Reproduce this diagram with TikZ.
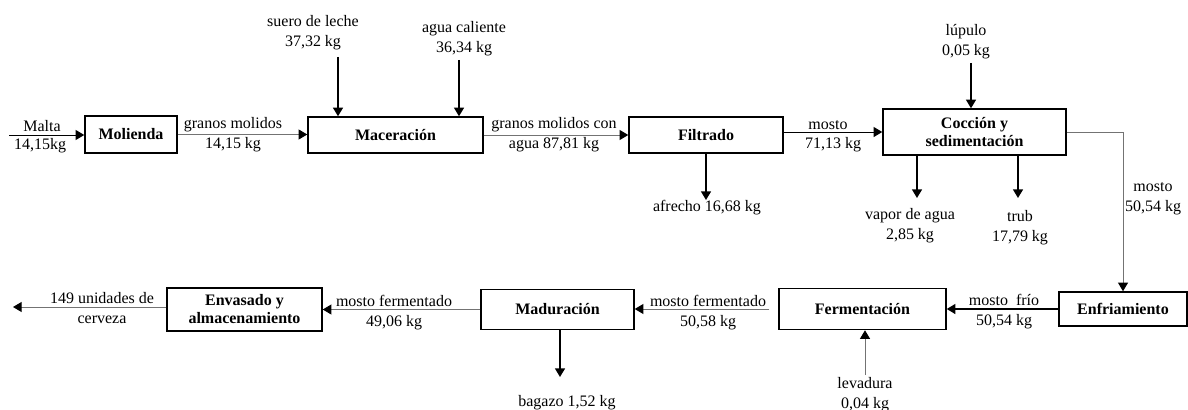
\documentclass[tikz,border=0pt]{standalone}
\usepackage{fontspec}
\setmainfont{Liberation Serif}
\usetikzlibrary{arrows.meta}
\begin{document}
\begin{tikzpicture}[x=0.75pt,y=-0.75pt,
  box/.style={draw=black, line width=1.1pt, fill=white, inner sep=1pt,
    font=\fontsize{12}{13.5}\selectfont\bfseries, align=center},
  lbl/.style={inner sep=0pt, font=\fontsize{12}{15}\selectfont, align=center},
  thickarrow/.style={line width=1.1pt, -{Triangle[length=6.5pt,width=7.5pt]}},
  thinarrow/.style={line width=0.75pt, -{Triangle[length=6.5pt,width=7.5pt]}},
  grayarrow/.style={line width=0.75pt, draw=black!55, -{Triangle[length=6.5pt,width=7.5pt,color=black]}}
]
\useasboundingbox (0,0) rectangle (1188,410);

% process boxes
\node[box, minimum width=92*0.75pt, minimum height=37*0.75pt] (mol) at (131,134.5) {Molienda};
\node[box, minimum width=175*0.75pt, minimum height=36*0.75pt] (mac) at (395.5,135) {Maceración};
\node[box, minimum width=154*0.75pt, minimum height=36*0.75pt] (fil) at (706,135) {Filtrado};
\node[box, minimum width=183*0.75pt, minimum height=46*0.75pt] (coc) at (974.5,132) {Cocción y\\sedimentación};
\node[box, minimum width=128*0.75pt, minimum height=34*0.75pt] (enf) at (1123,309) {Enfriamiento};
\node[box, minimum width=167*0.75pt, minimum height=41*0.75pt] (fer) at (862.5,309) {Fermentación};
\node[box, minimum width=153*0.75pt, minimum height=40*0.75pt] (mad) at (557.5,309.5) {Maduración};
\node[box, minimum width=155*0.75pt, minimum height=43*0.75pt] (env) at (244.5,309.5) {Envasado y\\almacenamiento};

% free ends
\coordinate (malta) at (9,135);
\coordinate (suero) at (338,57);
\coordinate (agua) at (459,60);
\coordinate (lup) at (971,63);
\coordinate (afr) at (706,200);
\coordinate (vap) at (917,198);
\coordinate (trub) at (1018,198);
\coordinate (bag) at (560,377);
\coordinate (lev) at (865,375);
\coordinate (out) at (13,307);

% connectors
\draw[thinarrow] (malta) -- (malta -| mol.west);
\draw[grayarrow] (mol.east) -- (mol.east -| mac.west);
\draw[thickarrow] (suero) -- (suero |- mac.north);
\draw[thickarrow] (agua) -- (agua |- mac.north);
\draw[grayarrow] (mac.east) -- (mac.east -| fil.west);
\draw[thickarrow] (fil.south) -- (afr);
\draw[thinarrow] (fil.east |- coc.west) -- (coc.west);
\draw[thickarrow] (lup) -- (lup |- coc.north);
\draw[thickarrow] (vap |- coc.south) -- (vap);
\draw[thickarrow] (trub |- coc.south) -- (trub);
\draw[grayarrow] (coc.east) -| (enf.north);
\draw[thickarrow] (enf.west) -- (enf.west -| fer.east);
\draw[grayarrow, shorten <=6.75pt] (fer.west) -- (fer.west -| mad.east);
\draw[grayarrow] (mad.west) -- (mad.west -| env.east);
\draw[grayarrow] (env.west |- out) -- (out);
\draw[thickarrow] (bag |- mad.south) -- (bag);
\draw[grayarrow] (lev) -- (lev |- fer.south);

% labels
\node[lbl] (lmalta) at (42,126) {Malta};
\node[lbl] (lmaltakg) at (40,146) {14,15kg};
\node[lbl] (lgran) at (233,135) {granos molidos\\14,15 kg};
\node[lbl] (lsuero) at (313,33) {suero de leche\\37,32 kg};
\node[lbl] (lagua) at (464,39) {agua caliente\\36,34 kg};
\node[lbl] (lgrancon) at (554,134.5) {granos molidos con\\agua 87,81 kg};
\node[lbl] (lafr) at (707,208) {afrecho 16,68 kg};
\node[lbl] (lmosto) at (828,125) {mosto};
\node[lbl] (lmostokg) at (833,145) {71,13 kg};
\node[lbl] (llup) at (966,42) {lúpulo\\0,05 kg};
\node[lbl] (lvap) at (910,225.5) {vapor de agua\\2,85 kg};
\node[lbl] (ltrub) at (1020,227.5) {trub\\17,79 kg};
\node[lbl] (lmosto2) at (1153,198.5) {mosto\\50,54 kg};
\node[lbl] (lfrio) at (1004,311.5) {mosto~~frío\\50,54 kg};
\node[lbl] (lferm1) at (708,312.5) {mosto fermentado\\50,58 kg};
\node[lbl] (lferm2) at (394,313) {mosto fermentado\\49,06 kg};
\node[lbl] (lout) at (102,308.5) {149 unidades de\\cerveza};
\node[lbl] (lbag) at (567,403) {bagazo 1,52 kg};
\node[lbl] (llev) at (865,394.5) {levadura\\0,04 kg};
\end{tikzpicture}
\end{document}
